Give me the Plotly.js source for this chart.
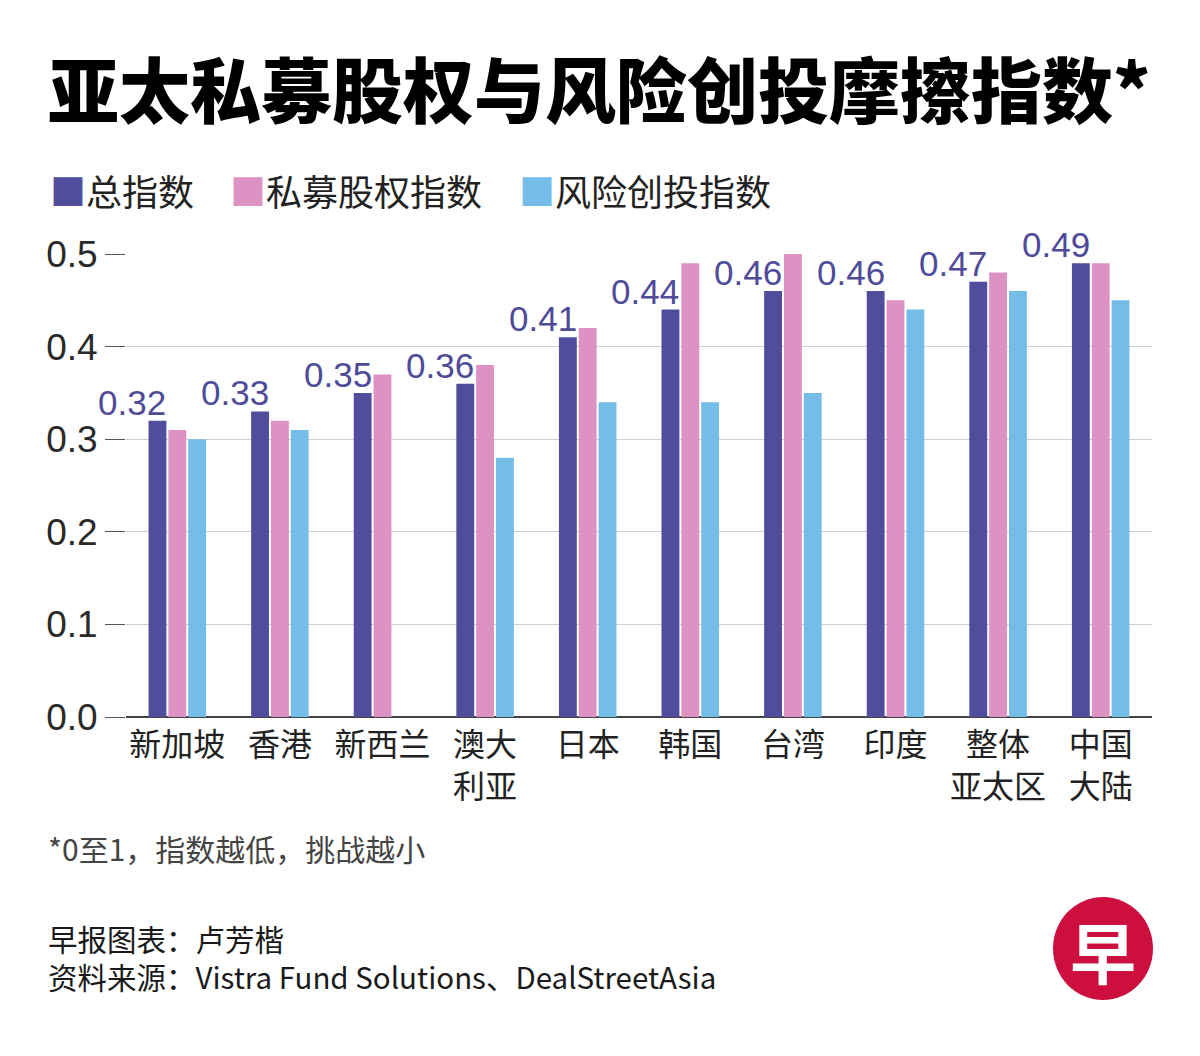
<!DOCTYPE html>
<html>
<head>
<meta charset="utf-8">
<script src="https://cdn.plot.ly/plotly-3.0.1.min.js"></script>
<style>
  html, body { margin: 0; padding: 0; background: #ffffff; }
  #chart { width: 1200px; height: 1056px; }
</style>
</head>
<body>
<div id="chart"></div>
<script>
// ---- Data ----
const categories = ['新加坡', '香港', '新西兰', '澳大<br>利亚', '日本', '韩国', '台湾', '印度', '整体<br>亚太区', '中国<br>大陆'];
const totalIndex = [0.32, 0.33, 0.35, 0.36, 0.41, 0.44, 0.46, 0.46, 0.47, 0.49];
const peIndex    = [0.31, 0.32, 0.37, 0.38, 0.42, 0.49, 0.50, 0.45, 0.48, 0.49];
const vcIndex    = [0.30, 0.31, null, 0.28, 0.34, 0.34, 0.35, 0.44, 0.46, 0.45];
const seriesNames = ['总指数', '私募股权指数', '风险创投指数'];
const yTickVals = [0, 0.1, 0.2, 0.3, 0.4, 0.5];
const yTickText = ['0.0', '0.1', '0.2', '0.3', '0.4', '0.5'];

const titleText = '亚太私募股权与风险创投摩擦指数*';
const footnoteText = '*0至1，指数越低，挑战越小';
const creditText = '早报图表：卢芳楷';
const sourceText = '资料来源：Vistra Fund Solutions、DealStreetAsia';

// ---- Styles ----
const colors = ['#514d9d', '#dc92c2', '#74bde8'];
const labelColor = '#4f4b98';
const CJK = '"Noto Sans CJK SC", "Noto Sans", sans-serif';
const NUM = '"Liberation Sans", Arial, sans-serif';

// plot area geometry (pixels) for paper-coordinate placement of decorations
const W = 1200, H = 1056;
const mL = 126, mR = 48, mT = 254, mB = 339;
const pw = W - mL - mR, ph = H - mT - mB;
const px = x => (x - mL) / pw;
const py = y => (H - mB - y) / ph;

const traces = [totalIndex, peIndex, vcIndex].map((vals, i) => ({
  type: 'bar',
  x: categories,
  y: vals,
  name: seriesNames[i],
  marker: { color: colors[i], line: { width: 0 } },
  hoverinfo: 'x+y+name',
  cliponaxis: false
}));

const annotations = [];
// value labels for the total index
totalIndex.forEach((v, i) => {
  annotations.push({
    x: categories[i], y: v, xref: 'x', yref: 'y',
    text: v.toFixed(2),
    showarrow: false,
    xanchor: 'right', yanchor: 'bottom',
    xshift: -9, yshift: -3,
    font: { family: NUM, size: 35, color: labelColor }
  });
});

// legend built as text
const legendItems = [
  { x: 48, name: seriesNames[0], color: colors[0] },
  { x: 228, name: seriesNames[1], color: colors[1] },
  { x: 517, name: seriesNames[2], color: colors[2] }
];
legendItems.forEach(it => {
  annotations.push({
    xref: 'paper', yref: 'paper', x: px(it.x), y: py(190),
    xanchor: 'left', yanchor: 'middle', showarrow: false,
    text: '<span style="color:' + it.color + '">■</span>' + it.name,
    font: { family: CJK, size: 36, color: '#222222' }
  });
});

// footnotes
annotations.push({
  xref: 'paper', yref: 'paper', x: px(46), y: py(848),
  xanchor: 'left', yanchor: 'middle', showarrow: false,
  text: footnoteText, font: { family: CJK, size: 30, color: '#444444' }
});
annotations.push({
  xref: 'paper', yref: 'paper', x: px(46), y: py(957),
  xanchor: 'left', yanchor: 'middle', showarrow: false, align: 'left',
  text: creditText + '<br>' + sourceText,
  font: { family: CJK, size: 29.5, color: '#1a1a1a' }
});
// logo character
annotations.push({
  xref: 'paper', yref: 'paper', x: px(1103), y: py(950),
  xanchor: 'center', yanchor: 'middle', showarrow: false,
  text: '<b>早</b>', font: { family: CJK, size: 66, color: '#ffffff' }
});

const layout = {
  width: W, height: H,
  margin: { l: mL, r: mR, t: mT, b: mB, pad: 0 },
  paper_bgcolor: '#ffffff',
  plot_bgcolor: '#ffffff',
  showlegend: false,
  barmode: 'group',
  bargap: 0.42,
  bargroupgap: 0.1,
  title: {
    text: titleText,
    xref: 'container', yref: 'container',
    x: 48 / W, xanchor: 'left',
    y: 1 - 92 / H, yanchor: 'middle',
    font: { family: CJK, size: 71, color: '#000000', weight: 900 }
  },
  xaxis: {
    type: 'category',
    range: [-0.5, categories.length - 0.5],
    autorange: false,
    tickfont: { family: CJK, size: 32, color: '#222222' },
    ticks: '', showgrid: false, zeroline: false, showline: false,
    ticklabelstandoff: 6,
    fixedrange: true
  },
  yaxis: {
    range: [0, 0.5],
    autorange: false,
    tickmode: 'array', tickvals: yTickVals, ticktext: yTickText,
    tickfont: { family: NUM, size: 37, color: '#2a2a2a' },
    ticks: 'outside', ticklen: 20, tickcolor: '#555555', tickwidth: 1,
    ticklabelstandoff: 0,
    showgrid: true, gridcolor: '#cfcfcf', gridwidth: 1,
    zeroline: true, zerolinecolor: '#444444', zerolinewidth: 2,
    showline: false, fixedrange: true
  },
  shapes: [{
    type: 'circle', xref: 'paper', yref: 'paper',
    x0: px(1053), x1: px(1153), y0: py(1000), y1: py(897),
    fillcolor: '#cc0f3c', line: { width: 0 }
  }],
  annotations: annotations
};

Plotly.newPlot('chart', traces, layout, { displayModeBar: false, staticPlot: true });
</script>
</body>
</html>
